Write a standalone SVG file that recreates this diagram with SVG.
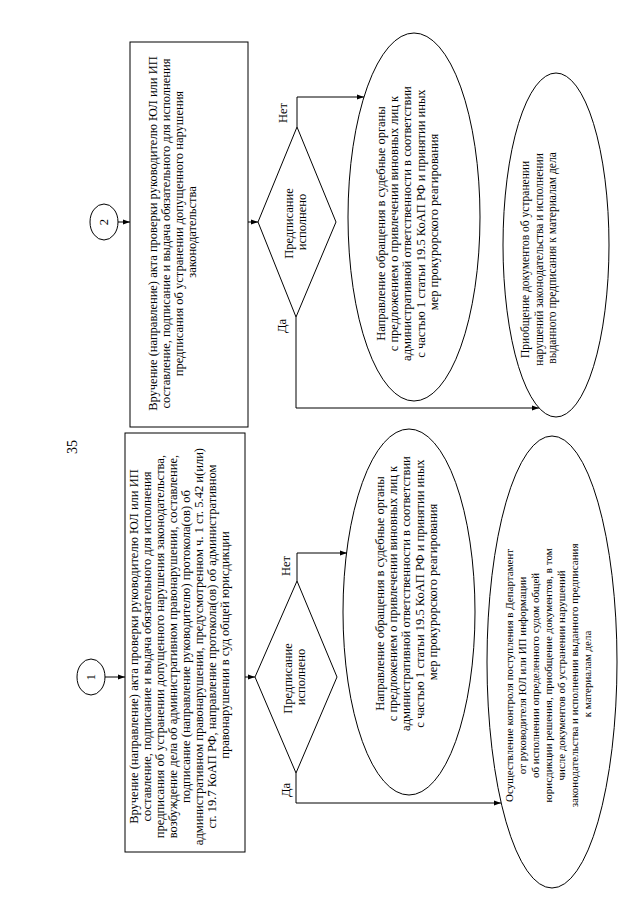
<svg xmlns="http://www.w3.org/2000/svg" width="640" height="905" viewBox="0 0 640 905">
<defs>
<marker id="ah" viewBox="0 0 10 10" refX="10" refY="5" markerWidth="7" markerHeight="7" orient="auto" markerUnits="userSpaceOnUse">
<path d="M0,1.5 L10,5 L0,8.5 z" fill="#000"/>
</marker>
<style>
.shape{fill:#fff;stroke:#000;stroke-width:1}
.conn{fill:none;stroke:#000;stroke-width:1;marker-end:url(#ah)}
text{font-family:"Liberation Serif","Times New Roman",serif;fill:#000}
.t{font-size:12.5px}
.s{font-size:11.5px}
.xs{font-size:11px}
.lbl{font-size:12.5px}
</style>
</defs>
<rect width="640" height="905" fill="#fff"/>
<text transform="translate(77,447) rotate(-90)" text-anchor="middle" font-size="14">35</text>

<g id="circle1">
<ellipse class="shape" cx="91" cy="677" rx="14" ry="18"/>
<text class="t" transform="translate(95,677) rotate(-90)" text-anchor="middle">1</text>
</g>
<g id="circle2">
<ellipse class="shape" cx="104" cy="222" rx="14" ry="18"/>
<text class="t" transform="translate(108,222) rotate(-90)" text-anchor="middle">2</text>
</g>

<g id="box1">
<rect class="shape" x="125" y="433" width="120" height="419"/>
<text class="t" transform="translate(138,645) rotate(-90)" text-anchor="middle">
<tspan x="0" y="0">Вручение (направление) акта проверки руководителю ЮЛ или ИП</tspan>
<tspan x="0" y="13">составление, подписание и выдача обязательного для исполнения</tspan>
<tspan x="0" y="26">предписания об устранении допущенного нарушения законодательства,</tspan>
<tspan x="0" y="39">возбуждение дела об административном правонарушении, составление,</tspan>
<tspan x="0" y="52">подписание (направление руководителю) протокола(ов) об</tspan>
<tspan x="0" y="65">административном правонарушении, предусмотренном ч. 1 ст. 5.42 и(или)</tspan>
<tspan x="0" y="78">ст. 19.7 КоАП РФ, направление протокола(ов) об административном</tspan>
<tspan x="0" y="91">правонарушении в суд общей юрисдикции</tspan>
</text>
</g>

<g id="box2">
<rect class="shape" x="130" y="42" width="118" height="385"/>
<text class="t" transform="translate(157,232) rotate(-90)" text-anchor="middle">
<tspan x="0" y="0">Вручение (направление) акта проверки руководителю ЮЛ или ИП</tspan>
<tspan x="0" y="13">составление, подписание и выдача обязательного для исполнения</tspan>
<tspan x="0" y="26">предписания об устранении допущенного нарушения</tspan>
<tspan x="0" y="39">законодательства</tspan>
</text>
</g>

<g id="decision1">
<polygon class="shape" points="255,677 297,581 337,677 296,773"/>
<text class="t" transform="translate(292,677) rotate(-90)" text-anchor="middle">
<tspan x="0" y="0">Предписание</tspan>
<tspan x="0" y="13">исполнено</tspan>
</text>
</g>

<g id="decision2">
<polygon class="shape" points="258,222 297,127 336,222 296,317"/>
<text class="t" transform="translate(293,222) rotate(-90)" text-anchor="middle">
<tspan x="0" y="0">Предписание</tspan>
<tspan x="0" y="13">исполнено</tspan>
</text>
</g>

<g id="court1">
<ellipse class="shape" cx="409" cy="612" rx="66" ry="183"/>
<text class="t" transform="translate(384,592) rotate(-90)" text-anchor="middle">
<tspan x="0" y="0">Направление обращения в судебные органы</tspan>
<tspan x="0" y="13.2">с предложением о привлечении виновных лиц к</tspan>
<tspan x="0" y="26.4">административной ответственности в соответствии</tspan>
<tspan x="0" y="39.6">с частью 1 статьи 19.5 КоАП РФ и принятии иных</tspan>
<tspan x="0" y="52.8">мер прокурорского реагирования</tspan>
</text>
</g>

<g id="court2">
<ellipse class="shape" cx="414" cy="217" rx="66" ry="184"/>
<text class="t" transform="translate(385,222) rotate(-90)" text-anchor="middle">
<tspan x="0" y="0">Направление обращения в судебные органы</tspan>
<tspan x="0" y="13.2">с предложением о привлечении виновных лиц к</tspan>
<tspan x="0" y="26.4">административной ответственности в соответствии</tspan>
<tspan x="0" y="39.6">с частью 1 статьи 19.5 КоАП РФ и принятии иных</tspan>
<tspan x="0" y="52.8">мер прокурорского реагирования</tspan>
</text>
</g>

<g id="control1">
<ellipse class="shape" cx="552" cy="662" rx="65" ry="226"/>
<text class="xs" transform="translate(513,674) rotate(-90)" text-anchor="middle">
<tspan x="0" y="0">Осуществление контроля поступления в Департамент</tspan>
<tspan x="0" y="13">от руководителя ЮЛ или ИП информации</tspan>
<tspan x="0" y="26">об исполнении определенного судом общей</tspan>
<tspan x="0" y="39">юрисдикции решения, приобщение документов, в том</tspan>
<tspan x="0" y="52">числе документов об устранении нарушений</tspan>
<tspan x="0" y="65">законодательства и исполнении выданного предписания</tspan>
<tspan x="0" y="78">к материалам дела</tspan>
</text>
</g>

<g id="attach2">
<ellipse class="shape" cx="556" cy="245" rx="53" ry="172"/>
<text class="s" transform="translate(529,258) rotate(-90)" text-anchor="middle">
<tspan x="0" y="0">Приобщение документов об устранении</tspan>
<tspan x="0" y="13.5">нарушений законодательства и исполнении</tspan>
<tspan x="0" y="27">выданного предписания к материалам дела</tspan>
</text>
</g>

<g id="connectors">
<path class="conn" d="M105,677 H125"/>
<path class="conn" d="M118,222 H130"/>
<path class="conn" d="M245,677 H255"/>
<path class="conn" d="M248,222 H258"/>
<path class="conn" d="M297,581 V553 H347"/>
<path class="conn" d="M296,773 V803 H501"/>
<path class="conn" d="M297,127 V97 H364"/>
<path class="conn" d="M296,317 V408 H539"/>
</g>

<g id="labels">
<text class="lbl" transform="translate(290,566) rotate(-90)" text-anchor="middle">Нет</text>
<text class="lbl" transform="translate(290,790) rotate(-90)" text-anchor="middle">Да</text>
<text class="lbl" transform="translate(287,113) rotate(-90)" text-anchor="middle">Нет</text>
<text class="lbl" transform="translate(286,326) rotate(-90)" text-anchor="middle">Да</text>
</g>
</svg>
